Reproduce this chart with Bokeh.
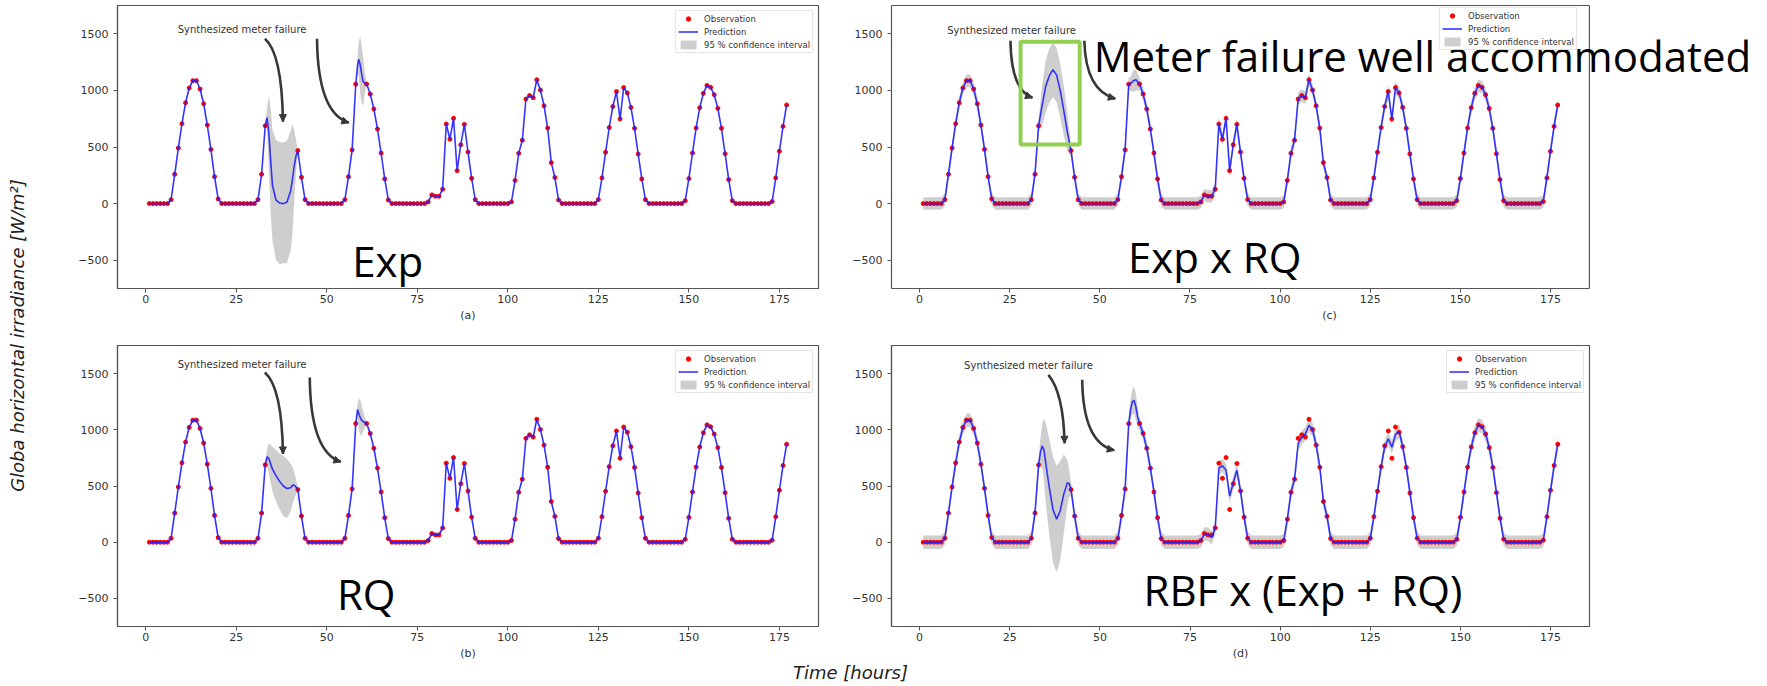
from math import pi

from bokeh.plotting import figure
from bokeh.layouts import row, column
from bokeh.models import (Range1d, Label, BoxAnnotation, Arrow, NormalHead,
                          Legend, LegendItem, ColumnDataSource, LinearAxis,
                          FixedTicker)
from bokeh.embed import file_html
from bokeh.resources import INLINE

# ---------------------------------------------------------------- data
hours = list(range(1, 178))

# hourly global horizontal irradiance [W/m^2]; None = synthesized meter failure
obs = [
    0, 0, 0, 0, 0, 0,
    35, 259, 491, 706, 891, 1021, 1086, 1086, 1012, 882, 694, 479, 238, 41,
    0, 0, 0, 0, 0, 0, 0, 0, 0, 0,
    35, 259, 688,
    None, None, None, None, None, None, None, None,
    468, 232, 35,
    0, 0, 0, 0, 0, 0, 0, 0, 0, 0,
    35, 238, 474, 1055,
    None, None,
    1056, 968, 836, 659, 447, 218, 32,
    0, 0, 0, 0, 0, 0, 0, 0, 0, 0,
    15, 77, 65, 65, 127, 703, 568, 753, 291, 520, 700, 456, 223, 35,
    0, 0, 0, 0, 0, 0, 0, 0, 0,
    15, 205, 444, 560, 924, 955, 935, 1094, 1003, 864, 667, 362, 230, 32,
    0, 0, 0, 0, 0, 0, 0, 0, 0, 0,
    35, 227, 453, 672, 858, 990, 747, 1025, 978, 850, 665, 438, 218, 35,
    0, 0, 0, 0, 0, 0, 0, 0, 0, 0,
    26, 221, 447, 668, 847, 974, 1044, 1027, 962, 841, 665, 441, 212, 26,
    0, 0, 0, 0, 0, 0, 0, 0, 0, 0,
    18, 227, 462, 682, 871,
]

# (a) Exp kernel: prediction and 95 % band inside the failure windows
exp_gap_hours = [33.5, 34, 34.5, 35, 36, 37, 38, 39, 40, 40.5, 41, 41.5,
                 58.5, 58.8, 59.2, 59.6, 60, 60.5]
exp_gap_pred = [760, 620, 380, 160, 30, 5, 0, 15, 110, 210, 330, 420,
                1220, 1275, 1230, 1150, 1080, 1065]
exp_gap_lo = [670, 290, -80, -330, -500, -535, -528, -525, -420, -280, 10, 280,
              1140, 1135, 980, 890, 860, 975]
exp_gap_hi = [850, 950, 840, 650, 560, 545, 540, 555, 640, 700, 650, 560,
              1300, 1415, 1480, 1410, 1300, 1155]
exp_band = 10

# (b) RQ kernel
rq_gap_hours = [33.5, 34, 35, 36, 37, 38, 39, 40, 40.7, 41.3,
                58.5, 59, 59.5, 60, 60.5]
rq_gap_pred = [760, 745, 650, 590, 540, 500, 478, 485, 510, 500,
               1180, 1130, 1090, 1075, 1065]
rq_gap_lo = [690, 610, 450, 360, 290, 230, 216, 270, 360, 410,
             1120, 980, 940, 980, 1020]
rq_gap_hi = [830, 880, 850, 820, 790, 770, 740, 700, 660, 590,
             1240, 1280, 1240, 1170, 1110]
rq_band = 18

# (c) Exp x RQ kernel
exprq_gap_hours = [34, 35, 36, 37, 38, 39, 40, 41,
                   58.5, 59, 59.5, 60, 60.5]
exprq_gap_pred = [870, 1040, 1130, 1183, 1135, 1000, 821, 630,
                  1060, 1075, 1088, 1094, 1075]
exprq_gap_lo = [690, 810, 890, 940, 895, 765, 600, 460,
                1000, 990, 990, 998, 1000]
exprq_gap_hi = [1050, 1270, 1370, 1420, 1375, 1235, 1040, 800,
                1120, 1160, 1185, 1190, 1150]
exprq_band = 55

# (d) RBF x (Exp + RQ) kernel; this one also smooths some observed hours
mix_gap_hours = [33.5, 34, 34.5, 35, 36, 37, 38, 39, 40, 41, 41.5,
                 58.5, 59, 59.5, 60, 60.5]
mix_gap_pred = [800, 856, 820, 700, 480, 290, 205, 280, 430, 530, 520,
                1180, 1250, 1262, 1200, 1110]
mix_gap_lo = [680, 656, 540, 340, 50, -180, -270, -160, 80, 330, 400,
              1090, 1140, 1140, 1080, 1020]
mix_gap_hi = [920, 1056, 1100, 1060, 910, 760, 680, 720, 780, 730, 640,
              1270, 1360, 1385, 1320, 1200]
mix_fit_hours = [79, 80, 81, 83, 84, 85, 86, 87, 88,
                 105, 106, 107, 108, 109, 129, 130, 131, 132, 133]
mix_fit_pred = [75, 70, 40, 660, 680, 640, 410, 530, 640,
                880, 930, 965, 1040, 1000, 850, 920, 845, 960, 985]
mix_band = 60

x_ticks = [0, 25, 50, 75, 100, 125, 150, 175]
y_ticks = [-500, 0, 500, 1000, 1500]

# ---------------------------------------------------------------- helpers
X_LIM = (-7.8, 185.8)
Y_LIM = (-750, 1750)
SANS = "DejaVu Sans"
BIG = "Open Sans"
BIG_SIZE = "42px"
EDGE = "#555555"


def build_series(gap_h, gap_p, gap_lo, gap_hi, band, fit_h=(), fit_p=()):
    pts = {}
    for h, v in zip(hours, obs):
        if v is not None:
            pts[h] = (v, v - band, v + band)
    for h, v in zip(fit_h, fit_p):
        pts[h] = (v, v - band, v + band)
    for h, v, lo, hi in zip(gap_h, gap_p, gap_lo, gap_hi):
        pts[h] = (v, lo, hi)
    xs = sorted(pts)
    return dict(x=xs,
                pred=[pts[h][0] for h in xs],
                lo=[pts[h][1] for h in xs],
                hi=[pts[h][2] for h in xs])


obs_x = [h for h, v in zip(hours, obs) if v is not None]
obs_y = [v for v in obs if v is not None]


def panel(series, tag, width, height, borders, note_xy, arrows, big_text, big_xy,
          x_end=None, legend_at=None):
    bl, br, bt, bb = borders
    open_right = x_end is not None
    p = figure(width=width, height=height,
               x_range=Range1d(X_LIM[0], x_end if open_right else X_LIM[1]),
               y_range=Range1d(*Y_LIM),
               output_backend="svg", toolbar_location=None, title=None,
               min_border_left=bl, min_border_right=br,
               min_border_top=bt, min_border_bottom=bb,
               background_fill_color="white", border_fill_color="white")
    p.grid.visible = False

    for ax in (p.xaxis[0], p.yaxis[0]):
        ax.axis_line_color = EDGE
        ax.axis_line_width = 1.2
        ax.major_tick_line_color = EDGE
        ax.major_tick_in = 0
        ax.major_tick_out = 4
        ax.minor_tick_line_color = None
        ax.major_label_text_font = SANS
        ax.major_label_text_font_size = "11px"
        ax.major_label_text_color = "#333333"
    p.xaxis.ticker = x_ticks
    p.yaxis.ticker = y_ticks
    p.yaxis.major_label_overrides = {-500: "\u2212500"}
    p.xaxis.major_label_standoff = 2
    p.yaxis.major_label_standoff = 5
    p.xaxis.axis_label = tag
    p.xaxis.axis_label_text_font = SANS
    p.xaxis.axis_label_text_font_size = "11px"
    p.xaxis.axis_label_text_font_style = "normal"
    p.xaxis.axis_label_text_color = "#333333"
    p.xaxis.axis_label_standoff = 3

    if open_right:
        # the plot box stops at X_LIM[1]; the canvas to its right holds text only
        p.outline_line_color = None
        p.xaxis.bounds = X_LIM
        top = LinearAxis(bounds=X_LIM, ticker=FixedTicker(ticks=[]),
                         axis_line_color=EDGE, axis_line_width=1.2,
                         major_tick_line_color=None, minor_tick_line_color=None,
                         major_label_text_font_size="0px")
        p.add_layout(top, "above")
        p.segment(x0=[X_LIM[1]], y0=[Y_LIM[0]], x1=[X_LIM[1]], y1=[Y_LIM[1]],
                  line_color=EDGE, line_width=1.2)
    else:
        p.outline_line_color = EDGE
        p.outline_line_width = 1.2

    src = ColumnDataSource(series)
    band_r = p.varea(x="x", y1="lo", y2="hi", source=src,
                     fill_color="#bdbdbd", fill_alpha=0.75)
    dots = p.scatter(obs_x, obs_y, size=4, marker="circle",
                     fill_color="#ff0000", line_color="#ff0000")
    line = p.line(x="x", y="pred", source=src, line_color="#2020ff",
                  line_width=1.6, line_alpha=0.9)

    legend = Legend(items=[LegendItem(label="Observation", renderers=[dots]),
                           LegendItem(label="Prediction", renderers=[line]),
                           LegendItem(label="95 % confidence interval", renderers=[band_r])],
                    location=legend_at if legend_at else "top_right",
                    margin=5, padding=2, spacing=2,
                    glyph_width=20, glyph_height=11, label_height=11,
                    label_standoff=6, label_text_font=SANS,
                    label_text_font_size="8.5px", label_text_color="#333333",
                    border_line_color="#cccccc", border_line_width=1,
                    background_fill_color="white", background_fill_alpha=0.85)
    p.add_layout(legend)

    # "Synthesized meter failure" note with its two curved arrows
    p.add_layout(Label(x=note_xy[0], y=note_xy[1], text="Synthesized meter failure",
                       text_font=SANS, text_font_size="10px", text_color="#333333",
                       text_align="center", text_baseline="middle"))
    for (sx, sy), (cx, cy), (ex, ey) in arrows:
        p.quadratic(x0=[sx], y0=[sy], x1=[ex], y1=[ey], cx=[cx], cy=[cy],
                    line_color="#383838", line_width=2.6)
        p.add_layout(Arrow(x_start=cx, y_start=cy, x_end=ex, y_end=ey,
                           line_alpha=0,
                           end=NormalHead(size=7, fill_color="#383838",
                                          line_color="#383838")))

    p.add_layout(Label(x=big_xy[0], y=big_xy[1], text=big_text,
                       text_font=BIG, text_font_size=BIG_SIZE, text_color="black",
                       text_align="left", text_baseline="middle"))
    return p


TOP_H, BOT_H, STRIP_H = 340, 322, 24
LEFT_W, RIGHT_W, YT_W = 790, 937, 40

fa = panel(build_series(exp_gap_hours, exp_gap_pred, exp_gap_lo, exp_gap_hi, exp_band),
           "(a)", LEFT_W, TOP_H, (77, 12, 4, 52), (26.6, 1540),
           [((32.9, 1456), (37.6, 1330), (37.9, 724)),
            ((47.3, 1456), (47.5, 800), (56.1, 715))],
           "Exp", (57.0, -503))

fb = panel(build_series(rq_gap_hours, rq_gap_pred, rq_gap_lo, rq_gap_hi, rq_band),
           "(b)", LEFT_W, BOT_H, (77, 12, 5, 34), (26.6, 1585),
           [((32.9, 1509), (37.6, 1380), (37.9, 785)),
            ((45.3, 1465), (45.5, 800), (53.9, 715))],
           "RQ", (52.8, -453))

fc = panel(build_series(exprq_gap_hours, exprq_gap_pred, exprq_gap_lo, exprq_gap_hi, exprq_band),
           "(c)", RIGHT_W, TOP_H, (61, 0, 5, 51), (25.5, 1532),
           [((25.2, 1439), (25.4, 1000), (31.3, 936)),
            ((45.7, 1439), (46.0, 1000), (54.3, 927))],
           "Exp x RQ", (57.8, -468), x_end=235.2, legend_at=(548, 238))
fc.add_layout(BoxAnnotation(left=28.0, right=44.4, bottom=521, top=1430,
                            fill_alpha=0, line_color="#92d050", line_alpha=1.0,
                            line_width=4))
fc.add_layout(Label(x=48.3, y=1306, text="Meter failure well accommodated",
                    text_font=BIG, text_font_size=BIG_SIZE, text_color="black",
                    text_align="left", text_baseline="middle"))

fd = panel(build_series(mix_gap_hours, mix_gap_pred, mix_gap_lo, mix_gap_hi, mix_band,
                        mix_fit_hours, mix_fit_pred),
           "(d)", RIGHT_W, BOT_H, (61, 178, 5, 34), (30.2, 1574),
           [((35.7, 1489), (39.9, 1330), (40.2, 880)),
            ((45.1, 1445), (45.3, 880), (54.0, 818))],
           "RBF x (Exp + RQ)", (62.1, -417))


def text_strip(width, height):
    s = figure(width=width, height=height, x_range=Range1d(0, width),
               y_range=Range1d(0, height), x_axis_location=None,
               y_axis_location=None, min_border=0, output_backend="svg",
               toolbar_location=None, title=None, outline_line_color=None,
               background_fill_color="white", border_fill_color="white")
    s.grid.visible = False
    return s


ytitle = text_strip(YT_W, TOP_H + BOT_H + STRIP_H)
ytitle.add_layout(Label(x=17, y=351, text="Globa horizontal irradiance [W/m\u00b2]",
                        angle=pi / 2, text_align="center", text_baseline="middle",
                        text_font=SANS, text_font_style="italic",
                        text_font_size="18px", text_color="#222222"))

xtitle = text_strip(LEFT_W + RIGHT_W, STRIP_H)
xtitle.add_layout(Label(x=810, y=14, text="Time [hours]", text_align="center",
                        text_baseline="middle", text_font=SANS,
                        text_font_style="italic", text_font_size="18px",
                        text_color="#222222"))

layout = row(ytitle, column(row(fa, fc), row(fb, fd), xtitle))

open("out.html", "w").write(file_html(layout, INLINE))
